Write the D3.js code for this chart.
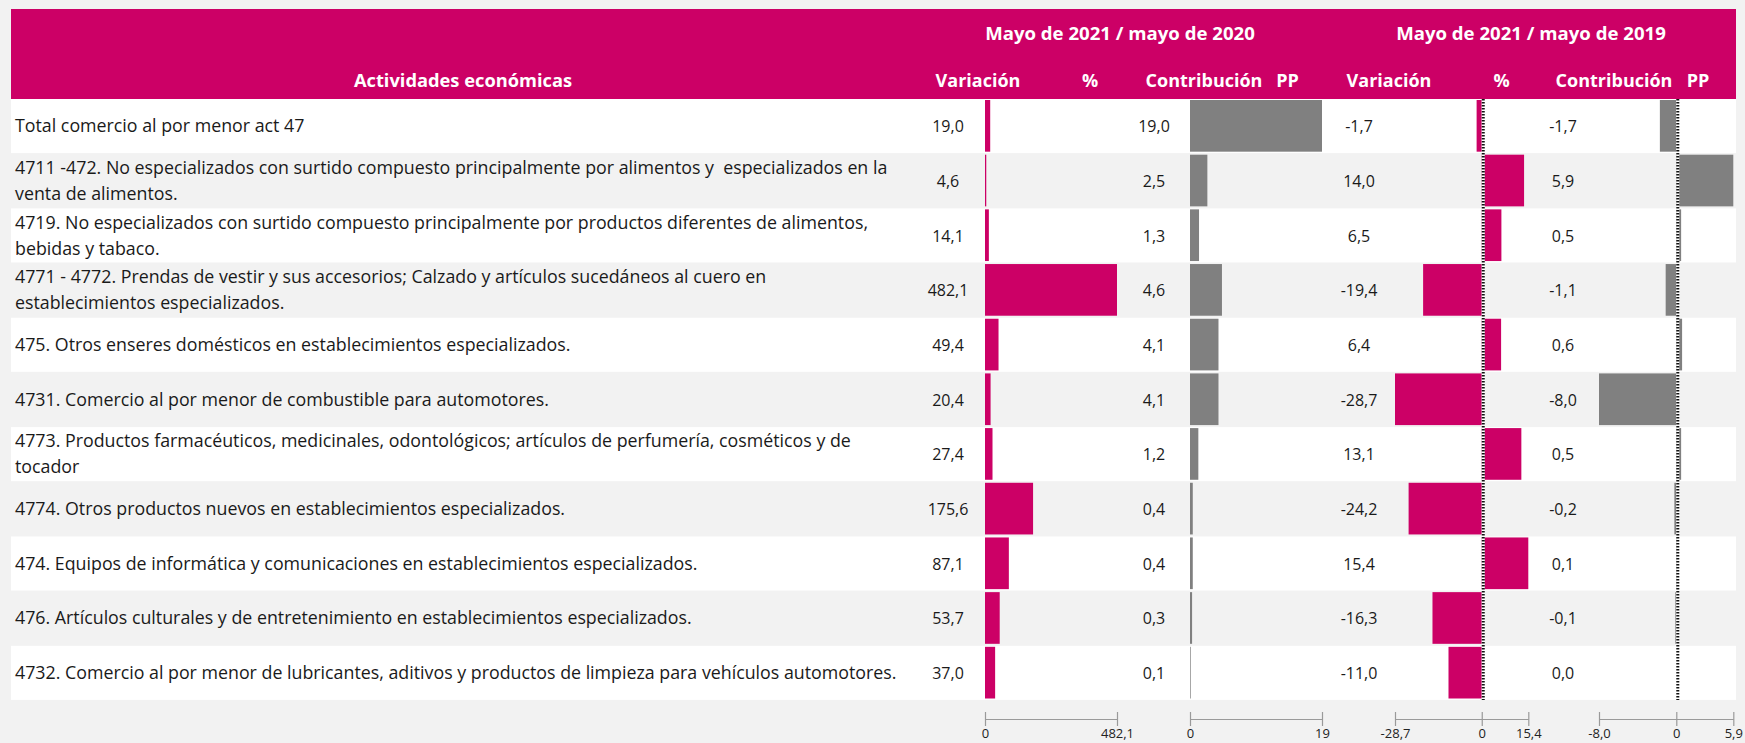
<!DOCTYPE html>
<html>
<head>
<meta charset="utf-8">
<script src="https://cdn.jsdelivr.net/npm/d3@7"></script>
<style>
  html, body { margin: 0; padding: 0; background: #f2f2f2; }
  svg { display: block; }
  text { font-family: "Segoe UI", "Open Sans", "Noto Sans", sans-serif; }
</style>
</head>
<body>
<svg id="chart" width="1745" height="743"></svg>
<script>
// Activities (line breaks follow the table's wrapping)
const categories = [
  "Total comercio al por menor act 47",
  "4711 -472. No especializados con surtido compuesto principalmente por alimentos y  especializados en la\nventa de alimentos.",
  "4719. No especializados con surtido compuesto principalmente por productos diferentes de alimentos,\nbebidas y tabaco.",
  "4771 - 4772. Prendas de vestir y sus accesorios; Calzado y artículos sucedáneos al cuero en\nestablecimientos especializados.",
  "475. Otros enseres domésticos en establecimientos especializados.",
  "4731. Comercio al por menor de combustible para automotores.",
  "4773. Productos farmacéuticos, medicinales, odontológicos; artículos de perfumería, cosméticos y de\ntocador",
  "4774. Otros productos nuevos en establecimientos especializados.",
  "474. Equipos de informática y comunicaciones en establecimientos especializados.",
  "476. Artículos culturales y de entretenimiento en establecimientos especializados.",
  "4732. Comercio al por menor de lubricantes, aditivos y productos de limpieza para vehículos automotores."
];

// Mayo 2021 / mayo 2020
const variacion2020    = [19.0, 4.6, 14.1, 482.1, 49.4, 20.4, 27.4, 175.6, 87.1, 53.7, 37.0];
const contribucion2020 = [19.0, 2.5, 1.3, 4.6, 4.1, 4.1, 1.2, 0.4, 0.4, 0.3, 0.1];
// Mayo 2021 / mayo 2019
const variacion2019    = [-1.7, 14.0, 6.5, -19.4, 6.4, -28.7, 13.1, -24.2, 15.4, -16.3, -11.0];
const contribucion2019 = [-1.7, 5.9, 0.5, -1.1, 0.6, -8.0, 0.5, -0.2, 0.1, -0.1, 0.0];

// Scale ticks under each bar column
const ticksVar2020 = [0, 482.1];
const tickLabelsVar2020 = ["0", "482,1"];
const ticksCon2020 = [0, 19];
const tickLabelsCon2020 = ["0", "19"];
const ticksVar2019 = [-28.7, 0, 15.4];
const tickLabelsVar2019 = ["-28,7", "0", "15,4"];
const ticksCon2019 = [-8.0, 0, 5.9];
const tickLabelsCon2019 = ["-8,0", "0", "5,9"];

// Header texts
const periodTitles = ["Mayo de 2021 / mayo de 2020", "Mayo de 2021 / mayo de 2019"];
const columnTitles = ["Variación", "%", "Contribución", "PP"];
const activityTitle = "Actividades económicas";

const PINK = "#cc0066";
const GREY = "#808080";
const W = 1745, H = 743;

const es = d3.formatLocale({ decimal: ",", thousands: ".", grouping: [3], currency: ["", ""], minus: "-" });
const fmt = es.format(".1f");

const svg = d3.select("#chart");
svg.append("rect").attr("width", W).attr("height", H).attr("fill", "#f2f2f2");

// Header band
svg.append("rect").attr("x", 11).attr("y", 9).attr("width", 1725).attr("height", 90).attr("fill", PINK);

const head = svg.append("g").attr("fill", "#fff").attr("font-weight", 700)
  .attr("text-anchor", "middle");
head.append("text").attr("x", 463).attr("y", 87).attr("font-size", 18.3).text(activityTitle);
[1120, 1531].forEach((cx, k) => head.append("text").attr("x", cx).attr("y", 40)
  .attr("font-size", 18.6).text(periodTitles[k]));
[[978, 1090, 1204, 1287.5], [1389, 1501.5, 1614, 1698]].forEach(xs =>
  xs.forEach((cx, k) => head.append("text").attr("x", cx).attr("y", 87)
    .attr("font-size", 18).text(columnTitles[k])));

// Rows
const y = d3.scaleBand().domain(d3.range(categories.length)).range([99, 700.5]);
const bw = y.bandwidth();

svg.append("g").selectAll("rect")
  .data(categories.map((d, i) => i).filter(i => i % 2 === 0))
  .join("rect")
  .attr("x", 11).attr("width", 1725)
  .attr("y", i => y(i)).attr("height", bw - 0.6)
  .attr("fill", "#fff");

// Activity labels
const LINE = 26;
const labels = svg.append("g").attr("fill", "#1a1a1a").attr("font-size", 16);
labels.selectAll("text").data(categories).join("text")
  .each(function (d, i) {
    const lines = d.split("\n");
    const c = y(i) + bw / 2;
    const t = d3.select(this);
    lines.forEach((ln, k) => {
      t.append("tspan").attr("x", 15)
        .attr("y", c - lines.length * LINE / 2 + 19 + k * LINE)
        .attr("xml:space", "preserve")
        .text(ln);
    });
  });
let widest = 0;
labels.selectAll("tspan").each(function () { widest = Math.max(widest, this.getComputedTextLength()); });
labels.attr("font-size", 16 * 882 / widest);

// Bar columns
const columns = [
  { values: variacion2020, x: d3.scaleLinear().domain([0, 482.1]).range([985, 1117]), color: PINK,
    labelX: 948, ticks: ticksVar2020, tickLabels: tickLabelsVar2020, zero: false },
  { values: contribucion2020, x: d3.scaleLinear().domain([0, 19]).range([1190, 1322]), color: GREY,
    labelX: 1154, ticks: ticksCon2020, tickLabels: tickLabelsCon2020, zero: false },
  { values: variacion2019, x: d3.scaleLinear().domain([-28.7, 15.4]).range([1395, 1528.3]), color: PINK,
    labelX: 1359, ticks: ticksVar2019, tickLabels: tickLabelsVar2019, zero: true },
  { values: contribucion2019, x: d3.scaleLinear().domain([-8.0, 5.9]).range([1599, 1733.3]), color: GREY,
    labelX: 1563, ticks: ticksCon2019, tickLabels: tickLabelsCon2019, zero: true }
];

columns.forEach(col => {
  const g = svg.append("g");
  g.selectAll("rect").data(col.values).join("rect")
    .attr("x", v => col.x(Math.min(0, v)))
    .attr("width", v => Math.abs(col.x(v) - col.x(0)))
    .attr("y", (v, i) => y(i) + 1)
    .attr("height", bw - 3)
    .attr("fill", col.color);

  g.selectAll("text").data(col.values).join("text")
    .attr("x", col.labelX)
    .attr("y", (v, i) => y(i) + bw / 2 + 6)
    .attr("text-anchor", "middle")
    .attr("font-size", 16)
    .attr("fill", "#1a1a1a")
    .text(v => fmt(v));

  if (col.zero) {
    const x0 = col.x(0) + 1.5;
    g.append("line").attr("x1", x0).attr("x2", x0).attr("y1", 99).attr("y2", 700)
      .attr("stroke", "#fff").attr("stroke-width", 3);
    g.append("line").attr("x1", x0).attr("x2", x0).attr("y1", 99).attr("y2", 700)
      .attr("stroke", "#111").attr("stroke-width", 3).attr("stroke-dasharray", "1.5,1.5");
  }

  const axis = d3.axisBottom(col.x)
    .tickValues(col.ticks)
    .tickFormat((d, i) => col.tickLabels[i])
    .tickSizeOuter(0)
    .tickSizeInner(7);
  const ag = svg.append("g").attr("transform", "translate(0,719)").call(axis);
  ag.attr("font-family", null).attr("font-size", 13);
  ag.select(".domain").attr("stroke", "#9a9a9a").attr("stroke-width", 1.2);
  ag.selectAll(".tick line").attr("y1", -7).attr("y2", 7).attr("stroke", "#9a9a9a").attr("stroke-width", 1.2);
  ag.selectAll(".tick text").attr("y", 10).attr("fill", "#222");
});
</script>
</body>
</html>
